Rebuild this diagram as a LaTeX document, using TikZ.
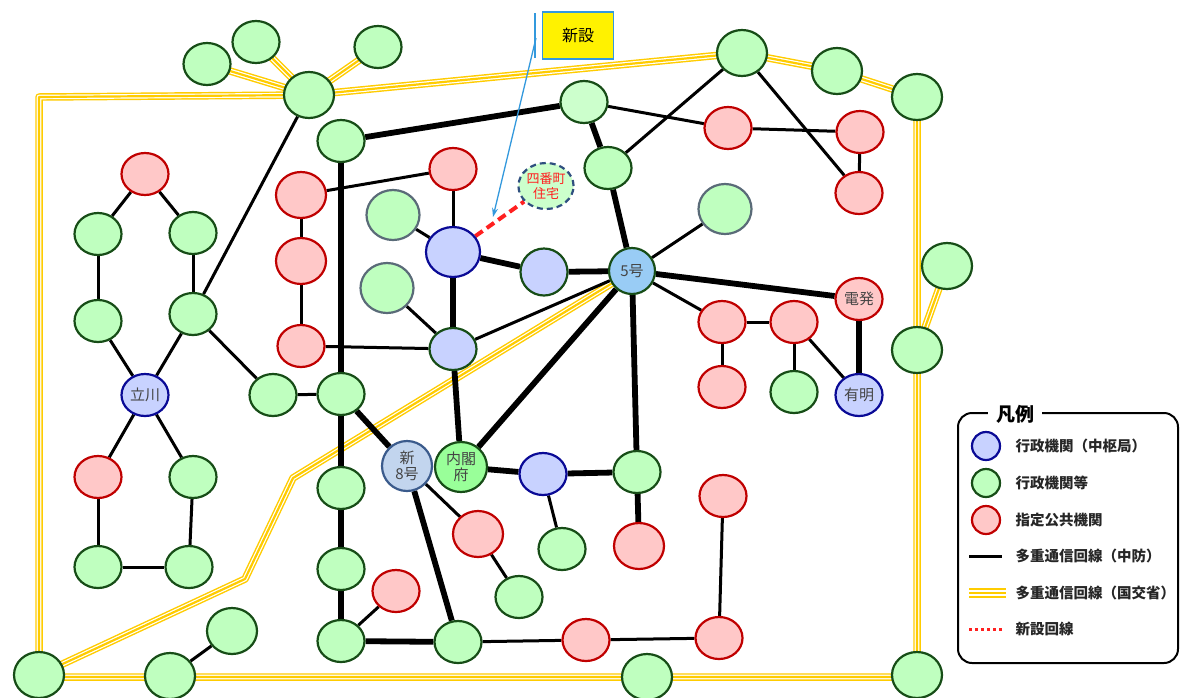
\documentclass[tikz,border=0pt]{standalone}
\usepackage{fontspec}
\newfontfamily\jp{Noto Sans CJK JP}
\usetikzlibrary{shapes.geometric,arrows.meta,backgrounds}
\definecolor{gF}{HTML}{BFFFBF}
\definecolor{gL}{HTML}{CCFFCC}
\definecolor{gD}{HTML}{174D17}
\definecolor{rF}{HTML}{FFC8C8}
\definecolor{rD}{HTML}{C00000}
\definecolor{bF}{HTML}{C8D2FF}
\definecolor{bD}{HTML}{0A0A96}
\definecolor{sky}{HTML}{99CCF5}
\definecolor{steel}{HTML}{C2D5EE}
\definecolor{steelD}{HTML}{3B5B8C}
\definecolor{naiF}{HTML}{99FF99}
\definecolor{greyD}{HTML}{5A6B78}
\definecolor{yel}{HTML}{FFCC00}
\definecolor{cyanL}{HTML}{3399DD}
\definecolor{txt}{HTML}{444444}
\definecolor{dashD}{HTML}{2F4F7F}
\definecolor{newR}{HTML}{FF2020}
\begin{document}
\begin{tikzpicture}[x=1pt,y=-1pt,
 nd/.style={ellipse,draw,line width=2.2pt,minimum width=47pt,minimum height=42pt,inner sep=0pt,font=\jp\fontsize{15}{16}\selectfont,text=txt,align=center},
 gn/.style={nd,fill=gF,draw=gD},
 gg/.style={nd,fill=gF,draw=greyD,minimum width=53pt,minimum height=50pt},
 rd/.style={nd,fill=rF,draw=rD},
 bl/.style={nd,fill=bF,draw=bD},
 bg/.style={nd,fill=bF,draw=gD},
 big/.style={minimum width=50pt,minimum height=46pt},
 ln/.style={line width=3pt},
 lnb/.style={line width=5.8pt},
 kk/.style={draw=yel,line width=7.5pt,line join=round,postaction={draw=white,line width=4.6pt},postaction={draw=yel,line width=2.2pt}},
 lgt/.style={anchor=west,font=\jp\bfseries\fontsize{14.5}{16}\selectfont,text=black!85},
 lgc/.style={circle,line width=2.2pt,minimum size=28pt,inner sep=0pt}
]
\useasboundingbox (0,0) rectangle (1180,697);
\clip (0,0) rectangle (1180,697);

% ---- nodes ----
\node[gn] (G1) at (207,64) {};
\node[gn] (G2) at (256,42) {};
\node[gn] (G3) at (378,47) {};
\node[gn,big] (H) at (309,95) {};
\node[gn] (G4) at (341,141) {};
\node[gn,big] (TR1) at (742,53) {};
\node[gn,big] (TR2) at (837,71) {};
\node[gn,big] (TR3) at (917,97) {};
\node[gn,big] (TR4) at (947,266) {};
\node[gn,big] (RN) at (917,350) {};
\node[gn,big] (BR) at (917,675) {};
\node[gn,big] (BL) at (39,675) {};
\node[gn,big] (B170) at (170,676) {};
\node[gn,big] (G232) at (232,631) {};
\node[gn,big] (B647) at (647,677) {};

\node[rd] (Rt) at (145,174) {};
\node[gn] (Ga) at (98,234) {};
\node[gn] (Gb) at (193,233) {};
\node[gn] (Gc) at (98,321) {};
\node[gn] (Gd) at (193,314) {};
\node[bl] (Tachi) at (145,395) {立川};
\node[rd] (Re) at (98,477) {};
\node[gn] (Gf) at (193,477) {};
\node[gn] (Gg) at (98,567) {};
\node[gn] (Gh) at (189,567) {};
\node[gn] (Gi) at (273,395) {};
\node[gn] (Gj) at (341,394) {};
\node[gn] (C1) at (341,488) {};
\node[gn] (C2) at (341,569) {};
\node[gn] (C3) at (341,641) {};

\node[rd,big] (R1) at (301,195) {};
\node[rd,big] (R2) at (301,261) {};
\node[rd] (R3) at (301,346) {};
\node[rd] (R4) at (453,169) {};
\node[gg] (Gk) at (393,215) {};
\node[gg] (Gl) at (387,288) {};
\node[bl,minimum width=54pt,minimum height=50pt] (B1) at (453,252) {};
\node[nd,fill=gF!80!white,draw=dashD,dash pattern=on 6pt off 4pt,minimum width=50pt,minimum height=46pt,text=newR,font=\jp\fontsize{13}{15}\selectfont] (Shi) at (546,186) {四番町\\住宅};
\node[bg,minimum width=47pt,minimum height=47pt] (B2) at (544,272) {};
\node[nd,fill=sky,draw=gD,minimum width=46pt,minimum height=46pt] (Go5) at (632,271) {5号};
\node[bg] (B3) at (453,349) {};
\node[nd,fill=steel,draw=steelD,minimum width=50pt,minimum height=50pt] (Shin) at (407,466) {新\\8号};
\node[nd,fill=naiF,draw=gD,minimum width=52pt,minimum height=50pt] (Nai) at (461,467) {内閣\\府};
\node[bl] (B4) at (543,474) {};
\node[gn] (Gm) at (637,472) {};
\node[nd,fill=gL,draw=gD] (Gtop) at (584,102) {};
\node[gn] (Gn) at (608,168) {};
\node[gg] (Go) at (725,209) {};
\node[rd] (Rp) at (728,128) {};
\node[rd] (Rq) at (860,132) {};
\node[rd] (Rr) at (859,193) {};
\node[rd] (Den) at (859,299) {電発};
\node[bl] (Ari) at (859,395) {有明};
\node[rd] (Rs) at (722,322) {};
\node[rd] (Rt2) at (794,322) {};
\node[rd] (Ru) at (722,387) {};
\node[gn] (Gv) at (794,392) {};
\node[rd,big] (Rw) at (478,534) {};
\node[gn] (Gx) at (519,597) {};
\node[gn] (Gy) at (562,549) {};
\node[rd,big] (Rz) at (639,546) {};
\node[rd] (Raa) at (723,496) {};
\node[gn] (Gbb) at (458,642) {};
\node[rd] (Rcc) at (586,640) {};
\node[rd] (Rdd) at (719,638) {};
\node[rd] (Ree) at (396,591) {};

% corner coordinates
\coordinate (kA) at (39,97);
\coordinate (kB) at (245,579);
\coordinate (kC) at (293,478);
\coordinate (kD) at (39,677);
\coordinate (kE) at (917,677);

% ---- connectors ----
\begin{scope}[on background layer]
 \fill[white] (0,0) rectangle (1180,697);
 \draw[kk] (kD) -- (kA) -- (H.center) -- (TR1.center) -- (TR2.center) -- (TR3.center) -- (kE) -- cycle;
 \draw[kk] (BL.center) -- (kB) -- (kC) -- (Go5.center);
 \draw[kk] (H.center) -- (G1.center);
 \draw[kk] (H.center) -- (G2.center);
 \draw[kk] (H.center) -- (G3.center);
 \draw[kk] (TR4.center) -- (RN.center);
 % thick
 \draw[lnb] (G4) -- (Gtop);
 \draw[lnb] (Gtop) -- (Gn);
 \draw[lnb] (Gn) -- (Go5);
 \draw[lnb] (Go5) -- (B2);
 \draw[lnb] (B2) -- (B1);
 \draw[lnb] (B1) -- (B3);
 \draw[lnb] (B3) -- (Nai);
 \draw[lnb] (Nai) -- (Go5);
 \draw[lnb] (Go5) -- (Gm);
 \draw[lnb] (Go5) -- (Den);
 \draw[lnb] (Den) -- (Ari);
 \draw[lnb] (Nai) -- (B4);
 \draw[lnb] (B4) -- (Gm);
 \draw[lnb] (Gm) -- (Rz);
 \draw[lnb] (Gj) -- (Shin);
 \draw[lnb] (Shin) -- (Gbb);
 \draw[lnb] (C3) -- (Gbb);
 \draw[lnb] (G4) -- (Gj);
 \draw[lnb] (Gj) -- (C1);
 \draw[lnb] (C1) -- (C2);
 \draw[lnb] (C2) -- (C3);
 % thin
 \draw[ln] (Gtop) -- (Rp);
 \draw[ln] (Rp) -- (Rq);
 \draw[ln] (TR1) -- (Gn);
 \draw[ln] (TR1) -- (Rr);
 \draw[ln] (Rq) -- (Rr);
 \draw[ln] (Go) -- (Go5);
 \draw[ln] (Go5) -- (B3);
 \draw[ln] (Go5) -- (Rs);
 \draw[ln] (Rs) -- (Rt2);
 \draw[ln] (Rs) -- (Ru);
 \draw[ln] (Rt2) -- (Gv);
 \draw[ln] (Rt2) -- (Ari);
 \draw[ln] (R1) -- (R4);
 \draw[ln] (R1) -- (R2);
 \draw[ln] (R2) -- (R3);
 \draw[ln] (R4) -- (B1);
 \draw[ln] (Gk) -- (B1);
 \draw[ln] (Gl) -- (B3);
 \draw[ln] (R3) -- (B3);
 \draw[ln] (Shin) -- (Rw);
 \draw[ln] (Rw) -- (Gx);
 \draw[ln] (B4) -- (Gy);
 \draw[ln] (Gbb) -- (Rcc);
 \draw[ln] (Rcc) -- (Rdd);
 \draw[ln] (Rdd) -- (Raa);
 \draw[ln] (C3) -- (Ree);
 \draw[ln] (B170) -- (G232);
 \draw[ln] (H) -- (Gd);
 \draw[ln] (Gd) -- (Gi);
 \draw[ln] (Gi) -- (Gj);
 \draw[ln] (Rt) -- (Ga);
 \draw[ln] (Rt) -- (Gb);
 \draw[ln] (Ga) -- (Gc);
 \draw[ln] (Gb) -- (Gd);
 \draw[ln] (Gc) -- (Tachi);
 \draw[ln] (Gd) -- (Tachi);
 \draw[ln] (Tachi) -- (Re);
 \draw[ln] (Tachi) -- (Gf);
 \draw[ln] (Re) -- (Gg);
 \draw[ln] (Gf) -- (Gh);
 \draw[ln] (Gg) -- (Gh);
 % new line
 \draw[newR,line width=4pt,dash pattern=on 9pt off 5pt] (B1) -- (Shi);
\end{scope}

% ---- callout ----
\node[draw=cyanL,fill=yellow,line width=1.3pt,minimum width=71pt,minimum height=47pt,inner sep=0pt,font=\jp\fontsize{16}{18}\selectfont] (Box) at (578,35.5) {新設};
\coordinate (cT) at (535,13);
\coordinate (cB) at (535,58);
\coordinate (cM) at (536,38);
\coordinate (cE) at (493,217);
\draw[cyanL,line width=1.6pt] (cT) -- (cB);
\draw[cyanL,line width=1.3pt,-{Stealth[length=9pt,width=6pt]}] (cM) -- (cE);

% ---- legend ----
\draw[line width=2pt,rounded corners=14pt] (958,413) rectangle (1178,663);
\node[fill=white,inner xsep=8pt,inner ysep=2pt,font=\jp\bfseries\fontsize{19}{21}\selectfont] (LT) at (1015,414) {凡例};
\node[lgc,fill=bF,draw=bD] (L1) at (986,446) {};
\node[lgt] (T1) at (1012,446) {行政機関（中枢局）};
\node[lgc,fill=gF,draw=gD] (L2) at (986,483) {};
\node[lgt] (T2) at (1012,483) {行政機関等};
\node[lgc,fill=rF,draw=rD] (L3) at (986,520) {};
\node[lgt] (T3) at (1012,520) {指定公共機関};
\coordinate (l4a) at (969,556); \coordinate (l4b) at (1002,556);
\draw[line width=3pt] (l4a) -- (l4b);
\node[lgt] (T4) at (1012,556) {多重通信回線（中防）};
\coordinate (l5a) at (969,593); \coordinate (l5b) at (1006,593);
\draw[draw=yel,line width=10pt] (l5a) -- (l5b);
\draw[draw=white,line width=6.5pt] (l5a) -- (l5b);
\draw[draw=yel,line width=2.6pt] (l5a) -- (l5b);
\node[lgt] (T5) at (1012,593) {多重通信回線（国交省）};
\coordinate (l6a) at (969,629); \coordinate (l6b) at (1004,629);
\draw[newR,line width=3pt,dash pattern=on 3pt off 3pt] (l6a) -- (l6b);
\node[lgt] (T6) at (1012,629) {新設回線};
\end{tikzpicture}
\end{document}
